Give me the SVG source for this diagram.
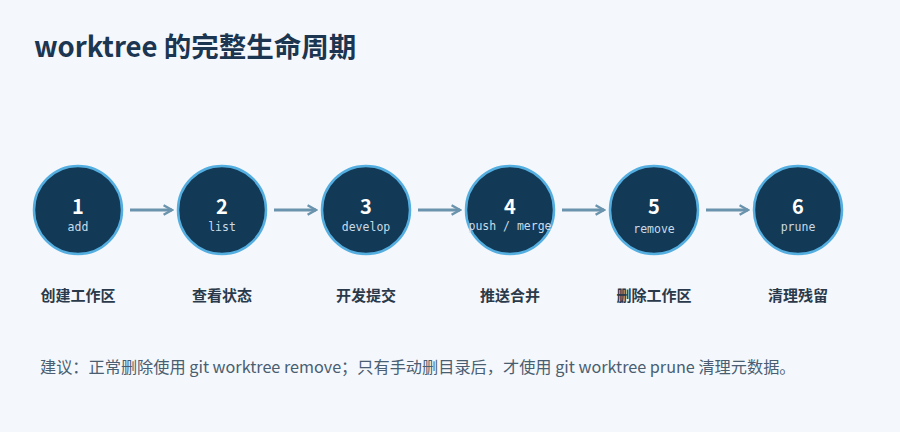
<svg xmlns="http://www.w3.org/2000/svg" width="900" height="432" viewBox="0 0 900 432">
<defs>
<style>
.title{font-family:"Noto Sans CJK SC","Noto Sans",sans-serif;font-size:27.5px;font-weight:700;fill:#1c3550}
.circ{fill:#123a57;stroke:#55aee0;stroke-width:2.5}
.num{font-family:"Noto Sans CJK SC","Noto Sans",sans-serif;font-size:20px;font-weight:700;fill:#ffffff;text-anchor:middle}
.cmd{font-family:"DejaVu Sans Mono",monospace;font-size:11.5px;fill:#c9dbe8;text-anchor:middle}
.lbl{font-family:"Noto Sans CJK SC","Noto Sans",sans-serif;font-size:15px;font-weight:700;fill:#2b3a4a;text-anchor:middle}
.note{font-family:"Noto Sans CJK SC","Noto Sans",sans-serif;font-size:16.2px;fill:#4a5e72}
.arr{stroke:#6a93ad;stroke-width:3;fill:none}
</style>
<marker id="ah" viewBox="0 0 10 10" refX="8" refY="5" markerWidth="4" markerHeight="4" orient="auto" markerUnits="strokeWidth">
<path d="M1,1 L8,5 L1,9" fill="none" stroke="#6a93ad" stroke-width="2"/>
</marker>
</defs>
<rect width="900" height="432" fill="#f4f7fb"/>
<text class="title" x="34" y="57">worktree 的完整生命周期</text>
<g id="connectors">
<line class="arr" x1="130" y1="210" x2="172" y2="210" marker-end="url(#ah)"/>
<line class="arr" x1="274" y1="210" x2="316" y2="210" marker-end="url(#ah)"/>
<line class="arr" x1="418" y1="210" x2="460" y2="210" marker-end="url(#ah)"/>
<line class="arr" x1="562" y1="210" x2="604" y2="210" marker-end="url(#ah)"/>
<line class="arr" x1="706" y1="210" x2="748" y2="210" marker-end="url(#ah)"/>
</g>
<g id="n1"><circle class="circ" cx="78" cy="210" r="44"/><text class="num" x="78" y="214">1</text><text class="cmd" x="78" y="231">add</text><text class="lbl" x="78" y="301">创建工作区</text></g>
<g id="n2"><circle class="circ" cx="222" cy="210" r="44"/><text class="num" x="222" y="214">2</text><text class="cmd" x="222" y="231">list</text><text class="lbl" x="222" y="301">查看状态</text></g>
<g id="n3"><circle class="circ" cx="366" cy="210" r="44"/><text class="num" x="366" y="214">3</text><text class="cmd" x="366" y="231">develop</text><text class="lbl" x="366" y="301">开发提交</text></g>
<g id="n4"><circle class="circ" cx="510" cy="210" r="44"/><text class="num" x="510" y="214">4</text><text class="cmd" x="510" y="230">push / merge</text><text class="lbl" x="510" y="301">推送合并</text></g>
<g id="n5"><circle class="circ" cx="654" cy="210" r="44"/><text class="num" x="654" y="214">5</text><text class="cmd" x="654" y="233">remove</text><text class="lbl" x="654" y="301">删除工作区</text></g>
<g id="n6"><circle class="circ" cx="798" cy="210" r="44"/><text class="num" x="798" y="214">6</text><text class="cmd" x="798" y="231">prune</text><text class="lbl" x="798" y="301">清理残留</text></g>
<text class="note" x="40" y="373">建议：正常删除使用 git worktree remove；只有手动删目录后，才使用 git worktree prune 清理元数据。</text>
</svg>
